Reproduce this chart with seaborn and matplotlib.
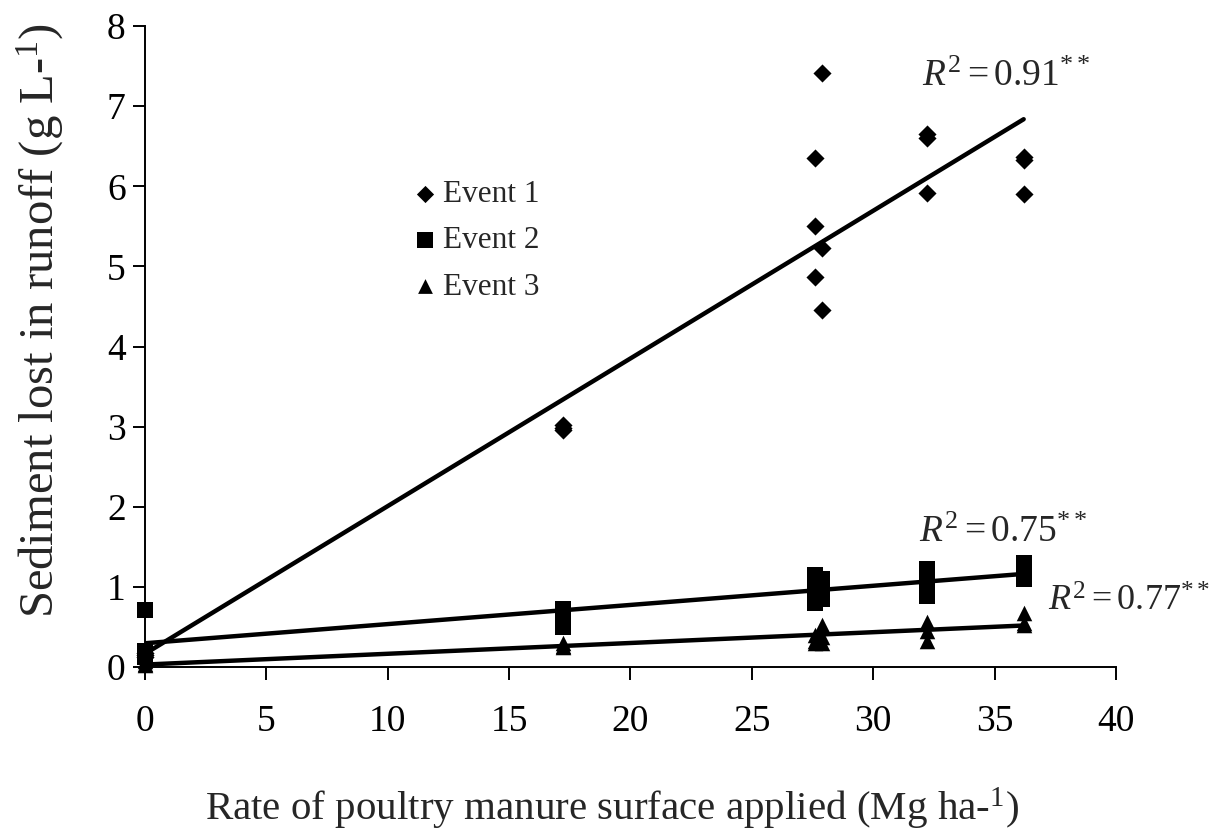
import matplotlib
matplotlib.use("Agg")
import matplotlib.pyplot as plt
import seaborn as sns
import pandas as pd

# Data
rate = [0, 0, 0, 17.2, 17.2, 17.2, 27.6, 27.6, 27.6, 27.9, 27.9, 27.9,
        32.2, 32.2, 32.2, 36.2, 36.2, 36.2]
event1 = [0.15, 0.12, 0.18, 3.02, 2.96, 2.98, 6.35, 5.50, 4.87, 7.41, 5.23, 4.46,
          6.65, 6.60, 5.91, 6.37, 5.90, 6.33]
event2 = [0.71, 0.20, 0.12, 0.72, 0.60, 0.50, 1.15, 0.95, 0.80, 1.10, 1.00, 0.85,
          1.22, 1.05, 0.88, 1.30, 1.20, 1.10]
event3 = [0.07, 0.04, 0.02, 0.30, 0.26, 0.25, 0.40, 0.32, 0.30, 0.52, 0.38, 0.30,
          0.56, 0.45, 0.33, 0.67, 0.55, 0.52]
series_names = ["Event 1", "Event 2", "Event 3"]
r2_labels = ["0.91", "0.75", "0.77"]
x_ticks = [0, 5, 10, 15, 20, 25, 30, 35, 40]
y_ticks = [0, 1, 2, 3, 4, 5, 6, 7, 8]

sns.set_theme(style="ticks")
plt.rcParams["font.family"] = ["Liberation Serif", "DejaVu Serif"]
plt.rcParams["mathtext.fontset"] = "custom"
plt.rcParams["mathtext.rm"] = "Liberation Serif"
plt.rcParams["mathtext.it"] = "Liberation Serif:italic"

fig = plt.figure(figsize=(12.09, 8.40), dpi=100)
ax = fig.add_axes([0.12, 0.206, 0.803, 0.763])

df = pd.DataFrame({"rate": rate, "Event 1": event1, "Event 2": event2, "Event 3": event3})
markers = ["D", "s", "^"]
sizes = [85, 130, 125]
for name, m, s in zip(series_names, markers, sizes):
    sns.regplot(data=df, x="rate", y=name, ax=ax, ci=None, truncate=True,
                marker=m, label=name,
                scatter_kws={"s": s, "color": "black", "linewidths": 0, "alpha": 1,
                             "clip_on": False, "zorder": 3},
                line_kws={"color": "black", "lw": 3.2, "zorder": 2})

ax.set_xlim(0, 40)
ax.set_ylim(0, 8)
ax.set_xticks(x_ticks)
ax.set_yticks(y_ticks)
ax.tick_params(axis="both", labelsize=27, width=1.4, length=9, color="black", labelcolor="black")
ax.tick_params(axis="x", pad=18)
ax.tick_params(axis="y", pad=5)
for sp in ["left", "bottom"]:
    ax.spines[sp].set_linewidth(1.4)
    ax.spines[sp].set_color("black")
sns.despine(ax=ax)

ax.set_xlabel("Rate of poultry manure surface applied (Mg ha-$^{1}$)", fontsize=29.5)
ax.set_ylabel("Sediment lost in runoff (g L-$^{1}$)", fontsize=35)
ax.xaxis.set_label_coords(0.481, -0.185)
ax.yaxis.set_label_coords(-0.081, 0.541)

ax.text(32.0, 7.25, r"$\mathit{R}^{2}=" + r2_labels[0] + r"^{**}$", fontsize=27, ha="left", va="baseline")
ax.text(31.9, 1.56, r"$\mathit{R}^{2}=" + r2_labels[1] + r"^{**}$", fontsize=27, ha="left", va="baseline")
ax.text(37.2, 0.70, r"$\mathit{R}^{2}=" + r2_labels[2] + r"^{**}$", fontsize=26, ha="left", va="baseline")

handles, labels = ax.get_legend_handles_labels()
ax.legend(handles[:3], labels[:3], loc="upper left", bbox_to_anchor=(0.263, 0.779), frameon=False,
          fontsize=22.5, handletextpad=0.15, labelspacing=0.55, borderaxespad=0,
          handlelength=0.8, markerscale=0.95)

fig.savefig("out.png", dpi=100)
